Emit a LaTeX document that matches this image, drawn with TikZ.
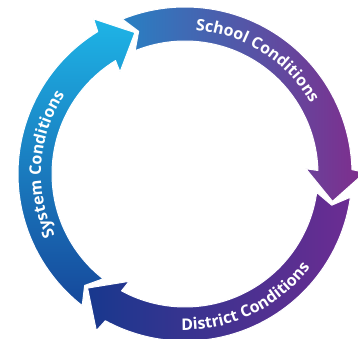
\documentclass[tikz,border=0pt]{standalone}
\usepackage{fontspec}
\newfontfamily\ringfont{Open Sans}
\usetikzlibrary{decorations.text}

\definecolor{systop}{RGB}{30,180,230}
\definecolor{sysbottom}{RGB}{22,72,155}
\definecolor{schoolleft}{RGB}{40,128,195}
\definecolor{schoolright}{RGB}{128,44,140}
\definecolor{distright}{RGB}{108,44,146}
\definecolor{distleft}{RGB}{24,56,142}

\tikzset{
  band/.style={draw=white, line width=1pt, line join=round},
  ringlabel/.style={decorate, decoration={text along path, text align=center,
      text={|\ringfont\bfseries\fontsize{16}{16}\selectfont\color{white}|#1}}}
}

\begin{document}
\begin{tikzpicture}[x=1pt,y=1pt]
\useasboundingbox (-185,-165) rectangle (173,174);

% left arc, going up
\path[band, top color=systop, bottom color=sysbottom]
  (232:167) arc[start angle=232, end angle=121.5, radius=167]
  -- (120.5:180) -- (109.5:150) -- (122.5:121) -- (121.5:133)
  arc[start angle=121.5, end angle=232, radius=133]
  -- (228:150) -- cycle;

% top right arc
\path[band, left color=schoolleft, right color=schoolright]
  (112:167) arc[start angle=112, end angle=1.5, radius=167]
  -- (0.5:180) -- (-10.5:150) -- (2.5:121) -- (1.5:133)
  arc[start angle=1.5, end angle=112, radius=133]
  -- (108:150) -- cycle;

% bottom arc
\path[band, left color=distleft, right color=distright]
  (-8:167) arc[start angle=-8, end angle=-118.5, radius=167]
  -- (-119.5:180) -- (-130.5:150) -- (-117.5:121) -- (-118.5:133)
  arc[start angle=-118.5, end angle=-8, radius=133]
  -- (-12:150) -- cycle;

% labels
\path[ringlabel={School Conditions}]
  (97.5:144) arc[start angle=97.5, end angle=17.5, radius=144];
\path[ringlabel={System Conditions}]
  (216:144) arc[start angle=216, end angle=136, radius=144];
\path[ringlabel={District Conditions}]
  (256:156) arc[start angle=256, end angle=336, radius=156];
\end{tikzpicture}
\end{document}
